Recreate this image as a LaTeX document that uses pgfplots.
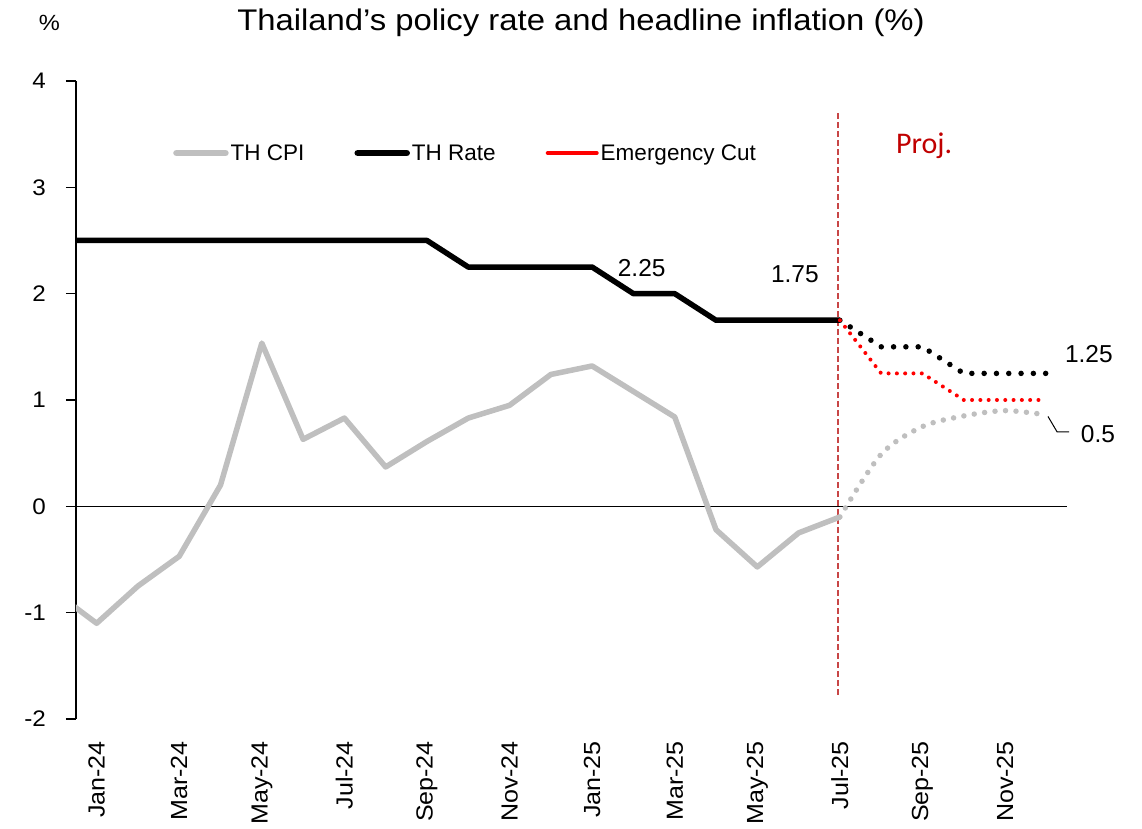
\documentclass[border=0pt]{standalone}
\usepackage{pgfplots}
\pgfplotsset{compat=1.18}
\usepackage{fontspec}
\setmainfont{Liberation Sans}
\newfontfamily\tickfont[FakeStretch=1.075]{Liberation Sans}
\newfontfamily\titlefont[FakeStretch=1.1]{Liberation Sans}
\newfontfamily\projfont{Carlito}
\definecolor{cpigray}{RGB}{191,191,191}
\definecolor{projred}{RGB}{192,0,0}
\definecolor{vline}{RGB}{200,70,70}
\begin{document}
\begin{tikzpicture}
\begin{axis}[
  scale only axis, width=991bp, height=638bp,
  xmin=-0.5, xmax=23.5, ymin=-2, ymax=4,
  axis lines=left,
  axis line style={-},
  x axis line style={draw=none},
  y axis line style={black, line width=1.5bp},
  xtick={0,2,...,22},
  xticklabels={Jan-24,Mar-24,May-24,Jul-24,Sep-24,Nov-24,Jan-25,Mar-25,May-25,Jul-25,Sep-25,Nov-25},
  x tick style={draw=none},
  xticklabel style={rotate=90, anchor=east, inner sep=0pt, font=\tickfont\fontsize{23.3bp}{27bp}\selectfont},
  xticklabel shift=12bp,
  ytick={-2,-1,0,1,2,3,4},
  yticklabels={-2,-1,0,1,2,3,4},
  y tick style={black, line width=1.5bp},
  tick align=outside,
  major tick length=10bp,
  yticklabel style={anchor=east, inner sep=0pt, font=\tickfont\fontsize{22.5bp}{26bp}\selectfont},
  yticklabel shift=20bp,
  clip mode=individual,
  legend columns=3,
  legend style={font=\fontsize{22.5bp}{26bp}\selectfont, draw=none, fill=none,
    at={(0.0979,0.8871)}, anchor=west, inner sep=0pt, nodes={inner sep=0pt},
    /tikz/every even column/.append style={column sep=50bp},
    /tikz/every odd column/.append style={column sep=2bp}},
]
% zero line
\addplot[black, line width=1.5bp, forget plot] coordinates {(-0.5,0) (23.5,0)};
% projection divider
\addplot[vline, line width=2bp, dash pattern=on 6bp off 3bp, forget plot] coordinates {(17.96,-1.77) (17.96,3.70)};
% TH CPI actual
\addplot[cpigray, line width=5.5bp, line join=round,
  legend image code/.code={\draw[cpigray, line width=6.5bp, line cap=round] (0bp,0bp) -- (49bp,0bp);}]
  coordinates {(-1,-0.81) (0,-1.10) (1,-0.75) (2,-0.47) (3,0.20) (4,1.535) (5,0.63) (6,0.83) (7,0.37) (8,0.61) (9,0.83) (10,0.95) (11,1.24) (12,1.32) (13,1.08) (14,0.84) (15,-0.22) (16,-0.57) (17,-0.25) (18,-0.10)};
\addlegendentry{TH CPI}
% TH CPI projection
\addplot[cpigray, line width=5.5bp, line cap=round, dash pattern=on 0bp off 10.5bp, smooth, tension=0.5, forget plot]
  coordinates {(18,-0.10) (19,0.49) (20,0.75) (21,0.85) (22,0.90) (23,0.86)};
% TH Rate actual
\addplot[black, line width=5.5bp, line join=round,
  legend image code/.code={\draw[black, line width=6.5bp, line cap=round] (0bp,0bp) -- (49bp,0bp);}]
  coordinates {(-1,2.5) (0,2.5) (1,2.5) (2,2.5) (3,2.5) (4,2.5) (5,2.5) (6,2.5) (7,2.5) (8,2.5) (9,2.25) (10,2.25) (11,2.25) (12,2.25) (13,2.0) (14,2.0) (15,1.75) (16,1.75) (17,1.75) (18,1.75)};
\addlegendentry{TH Rate}
% TH Rate projection
\addplot[black, line width=5.5bp, line cap=round, dash pattern=on 0bp off 12.3bp, forget plot]
  coordinates {(18,1.75) (19,1.5) (20,1.5) (21,1.25) (22,1.25) (23,1.25)};
% Emergency cut
\addplot[red, line width=4bp, line cap=round, dash pattern=on 0bp off 8.3bp,
  legend image code/.code={\draw[red, line width=4bp, line cap=round, solid] (0bp,0bp) -- (49bp,0bp);}]
  coordinates {(18,1.75) (19,1.25) (20,1.25) (21,1.0) (22,1.0) (23,1.0)};
\addlegendentry{Emergency Cut}
% annotation anchors
\coordinate (l225) at (axis cs:13.20,2.239);
\coordinate (l175) at (axis cs:16.91,2.187);
\coordinate (l125) at (axis cs:24.03,1.435);
\coordinate (l05) at (axis cs:24.25,0.683);
\coordinate (q1) at (axis cs:23.04,0.845);
\coordinate (q2) at (axis cs:23.26,0.70);
\coordinate (q3) at (axis cs:23.55,0.70);
\coordinate (proj) at (axis cs:20.04,3.322);
\coordinate (ttl) at (rel axis cs:0.5096,1.0788);
\coordinate (pct) at (rel axis cs:-0.0269,1.0788);
\coordinate (bl) at (rel axis cs:-0.07669,-0.17241);
\coordinate (tr) at (rel axis cs:1.07568,1.12696);
\end{axis}
\node[font=\fontsize{24.5bp}{28bp}\selectfont, inner sep=0pt] at (l225) {2.25};
\node[font=\fontsize{24.5bp}{28bp}\selectfont, inner sep=0pt] at (l175) {1.75};
\node[font=\fontsize{24.5bp}{28bp}\selectfont, inner sep=0pt] at (l125) {1.25};
\node[font=\fontsize{24.5bp}{28bp}\selectfont, inner sep=0pt] at (l05) {0.5};
\draw[black, line width=1bp] (q1) -- (q2) -- (q3);
\node[font=\projfont\fontsize{30bp}{34bp}\selectfont, text=projred, anchor=base, inner sep=0pt] at (proj) {Proj.};
\node[font=\titlefont\fontsize{29.85bp}{34bp}\selectfont, anchor=base, inner sep=0pt] at (ttl) {Thailand’s policy rate and headline inflation (\%)};
\node[font=\tickfont\fontsize{22bp}{26bp}\selectfont, anchor=base, inner sep=0pt] at (pct) {\%};
\pgfresetboundingbox
\path (bl) rectangle (tr);
\end{tikzpicture}
\end{document}
